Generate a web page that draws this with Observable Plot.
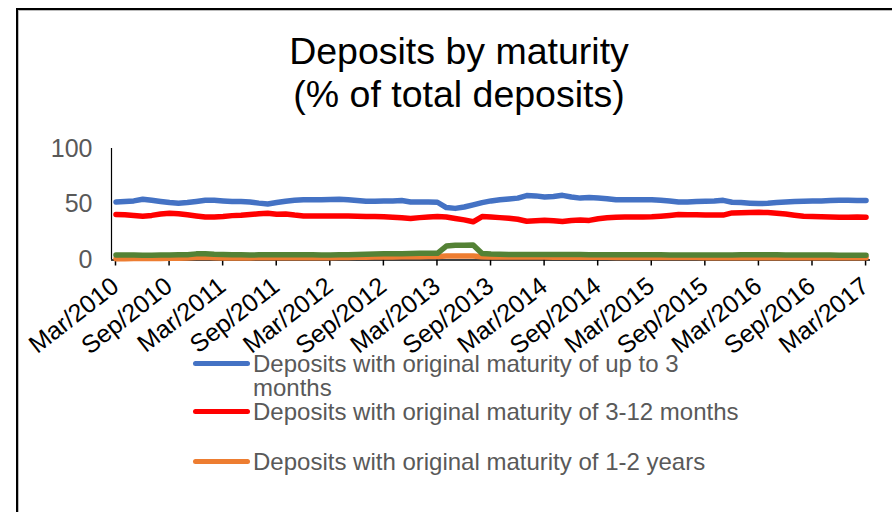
<!DOCTYPE html>
<html>
<head>
<meta charset="utf-8">
<script src="https://cdn.jsdelivr.net/npm/d3@7"></script>
<script src="https://cdn.jsdelivr.net/npm/@observablehq/plot@0.6"></script>
<style>
  html, body { margin: 0; padding: 0; background: #fff; }
  #wrap { position: relative; width: 892px; height: 512px; overflow: hidden; background: #fff;
          font-family: "Liberation Sans", Arial, sans-serif; }
  #border { position: absolute; left: 16px; top: 8px; width: 900px; height: 520px;
            border-left: 2px solid #000; border-top: 2px solid #000; box-shadow: inset 1px 1px 0 #bbb; }
  #title { position: absolute; left: 0; width: 918px; top: 29.5px; text-align: center;
           font-size: 37.5px; line-height: 43px; color: #000; white-space: nowrap; }
  #chart { position: absolute; left: 0; top: 0; }
  #legend { position: absolute; left: 0; top: 0; }
  .lg-line { position: absolute; height: 5px; border-radius: 3px; }
  .lg-text { position: absolute; font-size: 24px; line-height: 18px; color: #595959; white-space: nowrap; }
</style>
</head>
<body>
<div id="wrap">
  <div id="border"></div>
  <div id="title">Deposits by maturity<br>(% of total deposits)</div>
  <div id="chart"></div>
  <div id="legend"></div>
</div>
<script>
// Monthly categories, Mar/2010 .. Mar/2017
const months = d3.utcMonth.range(new Date(Date.UTC(2010, 2, 1)), new Date(Date.UTC(2017, 3, 1)));
const categories = months.map(d3.utcFormat("%b/%Y"));
const tickLabels = ["Mar/2010","Sep/2010","Mar/2011","Sep/2011","Mar/2012","Sep/2012","Mar/2013",
                    "Sep/2013","Mar/2014","Sep/2014","Mar/2015","Sep/2015","Mar/2016","Sep/2016","Mar/2017"];
const yTicks = [0, 50, 100];

const upTo3Months = [
  52, 52.5, 53, 54.5, 53.5, 52.5, 51.5, 51, 51.5, 52.5, 53.5, 53.5,
  53, 52.5, 52.5, 52, 51, 50.3, 51.5, 52.7, 53.5, 54, 54, 54,
  54.3, 54.5, 54, 53.3, 52.7, 52.7, 53, 53, 53.3, 52, 52, 52,
  51.8, 47, 46.3, 47.5, 49.5, 51.5, 53, 54, 54.8, 55.5, 57.8, 57.5,
  56.5, 57, 58, 56.5, 55.5, 56, 55.5, 55, 54, 54, 54, 54,
  54, 53.5, 53, 52, 52, 52.5, 52.7, 53, 53.5, 51.8, 51.5, 51,
  50.6, 50.8, 51.5, 52, 52.5, 52.7, 53, 53, 53.3, 53.5, 53.5, 53.3,
  53.3
];
const from3To12Months = [
  40.8, 40.5, 40, 39.3, 40, 41.2, 42, 41.5, 40.5, 39.5, 38.5, 38.5,
  39, 39.8, 40.2, 40.8, 41.5, 42, 41, 41.3, 40.3, 39.5, 39.5, 39.5,
  39.5, 39.5, 39.5, 39.3, 39, 39, 38.7, 38.4, 37.8, 37.3, 38, 38.5,
  39, 38.5, 37.2, 36, 34.3, 39, 38.5, 38, 37.5, 36.5, 34.8, 35.2,
  35.7, 35.3, 34.5, 35.5, 35.8, 35.5, 37, 37.8, 38.4, 38.5, 38.5, 38.6,
  38.7, 39.3, 40, 40.8, 40.6, 40.5, 40.4, 40.3, 40.3, 42.2, 42.3, 42.5,
  42.8, 42.5, 42, 41.2, 40.2, 39.3, 39, 38.8, 38.6, 38.4, 38.4, 38.5,
  38.4
];
const from1To2Years = [
  1.2, 1.2, 1.3, 1.3, 1.4, 1.4, 1.5, 1.6, 1.8, 2.3, 2.4, 2.1,
  1.9, 1.9, 1.9, 1.9, 2, 2, 2, 2, 2, 2, 2, 2,
  2.1, 2.2, 2.3, 2.4, 2.5, 2.6, 2.7, 2.8, 2.9, 3, 3, 3.1,
  3.2, 3.6, 3.6, 3.6, 3.6, 3, 2.8, 2.8, 2.7, 2.7, 2.6, 2.6,
  2.6, 2.5, 2.5, 2.5, 2.5, 2.4, 2.4, 2.4, 2.3, 2.3, 2.3, 2.3,
  2.3, 2.2, 2.2, 2.2, 2.2, 2.2, 2.1, 2.1, 2.1, 2.1, 2.1, 2.1,
  2.1, 2, 2, 2, 2, 2, 2, 2, 2, 2, 2, 2,
  2
];
const over2Years = [
  4.5, 4.5, 4.4, 4.3, 4.3, 4.4, 4.5, 4.6, 4.7, 5.5, 5.6, 5.2,
  5, 4.8, 4.6, 4.5, 4.6, 4.7, 4.8, 4.8, 4.8, 4.8, 4.6, 4.5,
  4.5, 4.6, 4.8, 5, 5.2, 5.4, 5.5, 5.6, 5.7, 5.9, 6, 6.1,
  6, 12.5, 13.3, 13.3, 13.4, 5.8, 5.3, 5.1, 5, 5, 5, 5,
  5, 5, 4.9, 4.9, 4.9, 4.8, 4.8, 4.8, 4.7, 4.7, 4.6, 4.6,
  4.6, 4.6, 4.5, 4.5, 4.5, 4.5, 4.5, 4.5, 4.5, 4.5, 4.6, 4.6,
  4.6, 4.6, 4.6, 4.5, 4.5, 4.5, 4.4, 4.4, 4.4, 4.3, 4.3, 4.2,
  4.2
];

const seriesNames = [
  "Deposits with original maturity of up to 3 months",
  "Deposits with original maturity of 3-12 months",
  "Deposits with original maturity of 1-2 years",
  "Deposits with original maturity of over 2 years"
];
const seriesValues = [upTo3Months, from3To12Months, from1To2Years, over2Years];
const seriesColors = ["#4472C4", "#FF0000", "#ED7D31", "#548235"];

// categories sit in the middle of each band; tick marks at band edges
const rows = seriesValues.map((vals, s) => vals.map((v, i) => ({i: i + 0.5, value: v, series: seriesNames[s], cat: categories[i]})));
const tickPos = tickLabels.map(l => categories.indexOf(l));

const H = 420;
const svg = Plot.plot({
  width: 892,
  height: H,
  marginLeft: 111,
  marginRight: 22,
  marginTop: 148,
  marginBottom: H - 259.5,
  style: {background: "transparent", fontFamily: "'Liberation Sans', Arial, sans-serif", overflow: "visible"},
  x: {type: "linear", domain: [0, categories.length], label: null},
  y: {domain: [0, 100], label: null},
  marks: [
    Plot.axisY({ticks: yTicks, tickSize: 0, tickPadding: 19, fontSize: 25, fill: "#595959", label: null,
                tickFormat: d => String(d)}),
    Plot.axisX({ticks: tickPos, tickFormat: i => categories[i], tickRotate: -38, tickSize: 6, label: null,
                tickPadding: 17, dx: 4, fontSize: 25, stroke: "#000", fill: "#000", strokeWidth: 1.5}),
    Plot.ruleX([0], {stroke: "#000", strokeWidth: 1.2}),
    Plot.ruleY([0], {stroke: "#000", strokeWidth: 1.5}),
    ...rows.map((r, s) => Plot.line(r, {x: "i", y: "value", stroke: seriesColors[s], strokeWidth: 5.5,
                                         strokeLinecap: "round", strokeLinejoin: "round"}))
  ]
});
document.getElementById("chart").appendChild(svg);

// Legend (fourth entry falls outside the visible area in the original)
const legend = document.getElementById("legend");
const legendItems = [
  {s: 0, lineY: 363, lines: ["Deposits with original maturity of up to 3", "months"], baselines: [372, 396]},
  {s: 1, lineY: 411, lines: ["Deposits with original maturity of 3-12 months"], baselines: [420]},
  {s: 2, lineY: 461, lines: ["Deposits with original maturity of 1-2 years"], baselines: [470]}
];
for (const it of legendItems) {
  const ln = document.createElement("div");
  ln.className = "lg-line";
  ln.style.left = "193px"; ln.style.width = "57px";
  ln.style.top = (it.lineY - 2.5) + "px";
  ln.style.background = seriesColors[it.s];
  legend.appendChild(ln);
  it.lines.forEach((t, k) => {
    const d = document.createElement("div");
    d.className = "lg-text";
    d.style.left = "253px";
    d.style.top = (it.baselines[k] - 17.3) + "px";
    d.textContent = t;
    legend.appendChild(d);
  });
}
</script>
</body>
</html>
